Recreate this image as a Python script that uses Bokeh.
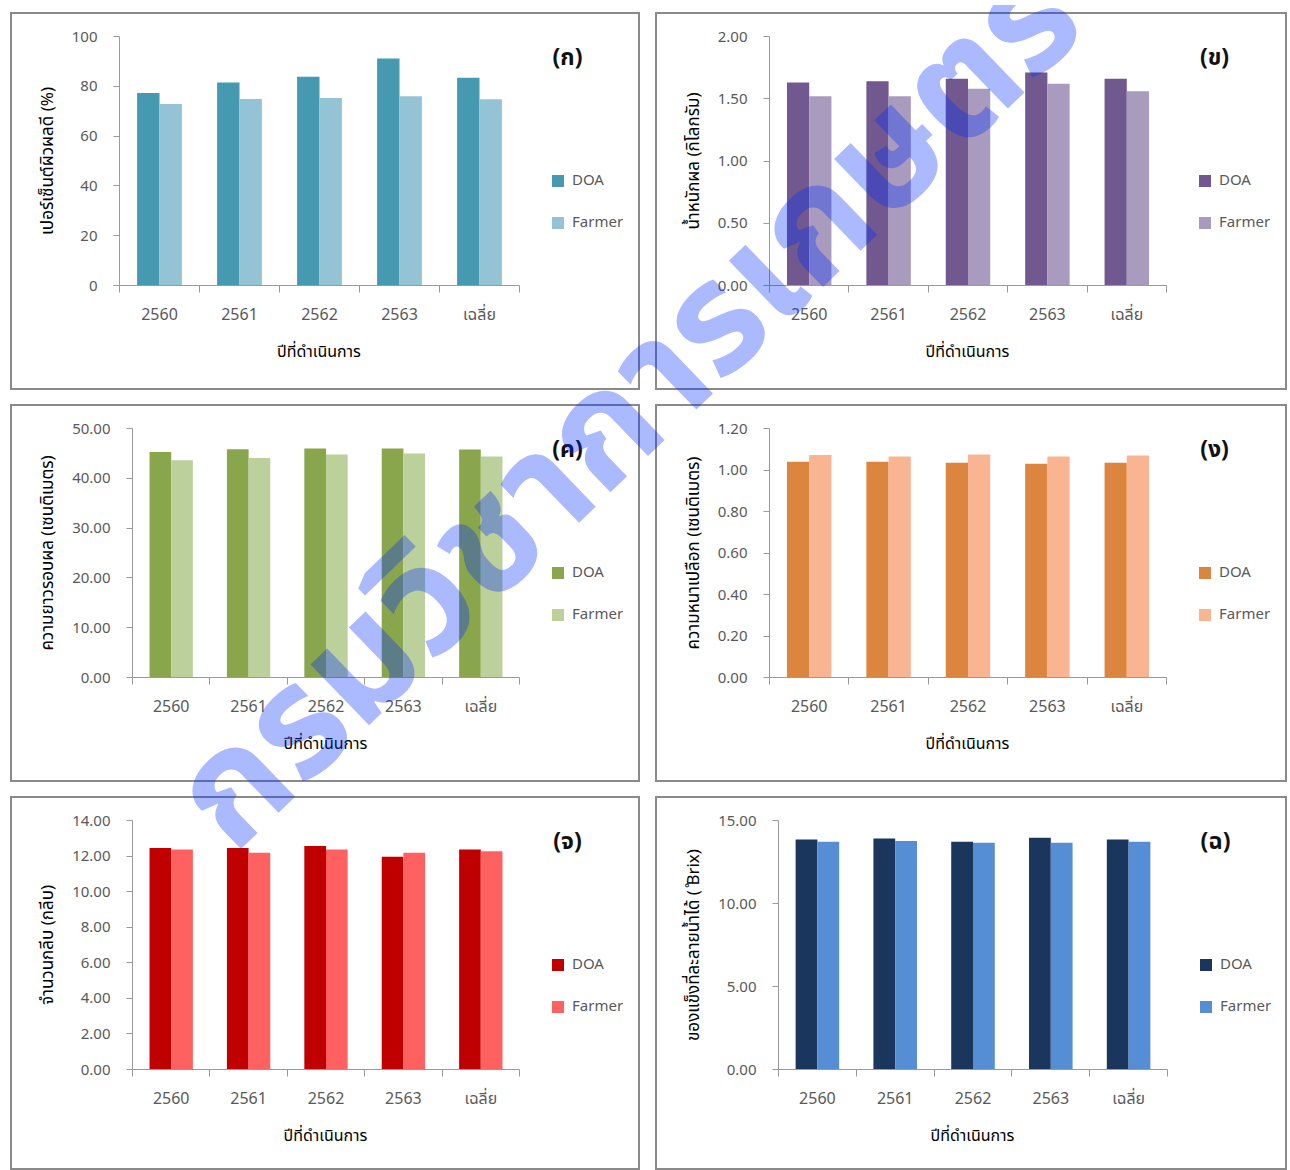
from bokeh.plotting import figure
from bokeh.models import (Range1d, LinearAxis, FixedTicker, Legend, LegendItem, Label,
                          Title, Div, ColumnDataSource, NumeralTickFormatter)
from bokeh.transform import dodge
from bokeh.layouts import column, row
from bokeh.embed import file_html
from bokeh.resources import INLINE

# ---- data -------------------------------------------------------------
years = ["2560", "2561", "2562", "2563", "เฉลี่ย"]
series = ["DOA", "Farmer"]
x_title = "ปีที่ดำเนินการ"

good_skin_doa = [77.3, 81.5, 83.8, 91.2, 83.4]
good_skin_farmer = [72.9, 74.9, 75.3, 76.0, 74.8]
good_skin_ticks = [0, 20, 40, 60, 80, 100]

weight_doa = [1.63, 1.64, 1.66, 1.71, 1.66]
weight_farmer = [1.52, 1.52, 1.58, 1.62, 1.56]
weight_ticks = [0.0, 0.5, 1.0, 1.5, 2.0]

girth_doa = [45.3, 45.85, 45.97, 45.97, 45.8]
girth_farmer = [43.6, 44.1, 44.8, 45.0, 44.4]
girth_ticks = [0, 10, 20, 30, 40, 50]

peel_doa = [1.04, 1.04, 1.035, 1.03, 1.035]
peel_farmer = [1.072, 1.065, 1.075, 1.065, 1.07]
peel_ticks = [0.0, 0.2, 0.4, 0.6, 0.8, 1.0, 1.2]

segments_doa = [12.46, 12.46, 12.56, 11.96, 12.37]
segments_farmer = [12.37, 12.18, 12.37, 12.18, 12.27]
segments_ticks = [0, 2, 4, 6, 8, 10, 12, 14]

brix_doa = [13.86, 13.92, 13.72, 13.96, 13.86]
brix_farmer = [13.72, 13.76, 13.66, 13.66, 13.72]
brix_ticks = [0, 5, 10, 15]

FONT = "'Noto Sans Thai', 'Noto Sans', sans-serif"
GRAY = "#595959"
AXIS = "#9a9a9a"
BORDER = 2
X_TITLE_W = 85   # approximate rendered width of the x title at 16px

# each year occupies one unit slot; its bars sit around the slot centre
n = len(years)
slot_centre = [i + 0.5 for i in range(n)]
slot_edges = list(range(n + 1))


def make_panel(tag, ylabel, doa, farmer, ticks, fmt, colors, width, left, axis_w, height=378):
    frame_w = width - left - 2
    # the frame reaches to the right edge so the legend and tag sit inside it;
    # the year axis itself only spans the slots
    x_end = n * frame_w / axis_w
    p = figure(x_range=Range1d(0, x_end),
               y_range=Range1d(ticks[0], ticks[-1]),
               width=width, height=height, output_backend="svg", toolbar_location=None,
               x_axis_location=None, y_axis_location=None,
               min_border_left=left, min_border_right=2,
               min_border_top=22, min_border_bottom=height - 22 - 249,
               outline_line_color=None,
               styles={"border": f"{BORDER}px solid #8a8a8a", "box-sizing": "border-box"})
    p.xgrid.visible = False
    p.ygrid.visible = False

    # year axis: ticks on the slot boundaries, labels at the slot centres
    xa = LinearAxis(ticker=FixedTicker(ticks=slot_centre, minor_ticks=slot_edges),
                    major_label_overrides=dict(zip(slot_centre, years)),
                    bounds=(0, n))
    xa.major_tick_line_color = None
    xa.major_tick_out = 0
    xa.major_tick_in = 0
    xa.minor_tick_out = 7
    xa.minor_tick_in = 0
    xa.minor_tick_line_color = AXIS
    xa.axis_line_color = AXIS
    xa.major_label_standoff = 10
    xa.major_label_text_font = FONT
    xa.major_label_text_font_size = "16px"
    xa.major_label_text_color = GRAY
    p.add_layout(xa, "below")

    # x title centred under the year axis
    p.add_layout(Title(text=x_title, align="left", offset=axis_w / 2 - X_TITLE_W / 2,
                       vertical_align="top", standoff=20,
                       text_font=FONT, text_font_size="16px", text_font_style="normal",
                       text_color="#000000"), "below")

    ya = LinearAxis(ticker=FixedTicker(ticks=ticks), formatter=NumeralTickFormatter(format=fmt),
                    axis_label=ylabel)
    ya.major_tick_out = 6
    ya.major_tick_in = 0
    ya.minor_tick_line_color = None
    ya.major_tick_line_color = AXIS
    ya.axis_line_color = AXIS
    ya.major_label_standoff = 16
    ya.major_label_text_font = FONT
    ya.major_label_text_font_size = "15px"
    ya.major_label_text_color = GRAY
    ya.axis_label_standoff = 8
    ya.axis_label_text_font = FONT
    ya.axis_label_text_font_size = "17px"
    ya.axis_label_text_font_style = "normal"
    ya.axis_label_text_color = "#000000"
    p.add_layout(ya, "left")

    src = ColumnDataSource(dict(pos=slot_centre, year=years, doa=doa, farmer=farmer))
    r1 = p.vbar(x=dodge("pos", -0.14), top="doa", width=0.28,
                source=src, fill_color=colors[0], line_color=None)
    r2 = p.vbar(x=dodge("pos", 0.14), top="farmer", width=0.28,
                source=src, fill_color=colors[1], line_color=None)

    legend = Legend(items=[LegendItem(label=series[0], renderers=[r1]),
                           LegendItem(label=series[1], renderers=[r2])],
                    location=(axis_w + 31, 51), orientation="vertical",
                    border_line_color=None, background_fill_alpha=0,
                    glyph_width=15, glyph_height=15, label_height=15, spacing=19,
                    padding=0, margin=0, label_standoff=7,
                    label_text_font=FONT, label_text_font_size="15px",
                    label_text_color=GRAY, label_text_baseline="middle")
    p.add_layout(legend, "center")

    p.add_layout(Label(x=axis_w + 48, y=228, x_units="screen", y_units="screen",
                       text=tag, text_align="center", text_baseline="middle",
                       text_font=FONT, text_font_size="23px", text_font_style="bold",
                       text_color="#111111"))
    return p


p1 = make_panel("(ก)", "เปอร์เซ็นต์ผิวผลดี (%)", good_skin_doa, good_skin_farmer,
                good_skin_ticks, "0", ("#4599B1", "#93C3D4"), 630, 107, 400)
p2 = make_panel("(ข)", "น้ำหนักผล (กิโลกรัม)", weight_doa, weight_farmer,
                weight_ticks, "0.00", ("#71588F", "#A99BBD"), 632, 112, 397)
p3 = make_panel("(ค)", "ความยาวรอบผล (เซนติเมตร)", girth_doa, girth_farmer,
                girth_ticks, "0.00", ("#8AA64D", "#BBD09A"), 630, 120, 387)
p4 = make_panel("(ง)", "ความหนาเปลือก (เซนติเมตร)", peel_doa, peel_farmer,
                peel_ticks, "0.00", ("#DC853F", "#F9B592"), 632, 112, 397)
p5 = make_panel("(จ)", "จำนวนกลีบ (กลีบ)", segments_doa, segments_farmer,
                segments_ticks, "0.00", ("#C00000", "#FF6161"), 630, 120, 387, height=374)
p6 = make_panel("(ฉ)", "ของแข็งที่ละลายน้ำได้ ( ̊Brix)", brix_doa, brix_farmer,
                brix_ticks, "0.00", ("#1A365D", "#558ED5"), 632, 121, 389, height=374)

grid = column(row(p1, p2, spacing=15), row(p3, p4, spacing=15), row(p5, p6, spacing=15),
              spacing=14, margin=(12, 0, 0, 10))

watermark = Div(
    text=("<div style=\"position:absolute; left:624px; top:404px; width:0; height:0;\">"
          "<span style=\"position:absolute; left:0; top:0; white-space:nowrap; "
          "transform:translate(-50%,-50%) rotate(-44deg); font-size:154px; font-weight:bold; "
          "font-family:'Noto Sans Thai', 'Noto Sans', sans-serif; "
          "color:rgba(0,43,255,0.33);\">กรมวิชาการเกษตร</span></div>"),
    width=1290, height=1170,
    styles={"position": "absolute", "left": "0px", "top": "0px",
            "pointer-events": "none", "z-index": "10", "overflow": "hidden"})

page = column(grid, watermark, styles={"position": "relative"})

open("out.html", "w").write(file_html(page, INLINE))
